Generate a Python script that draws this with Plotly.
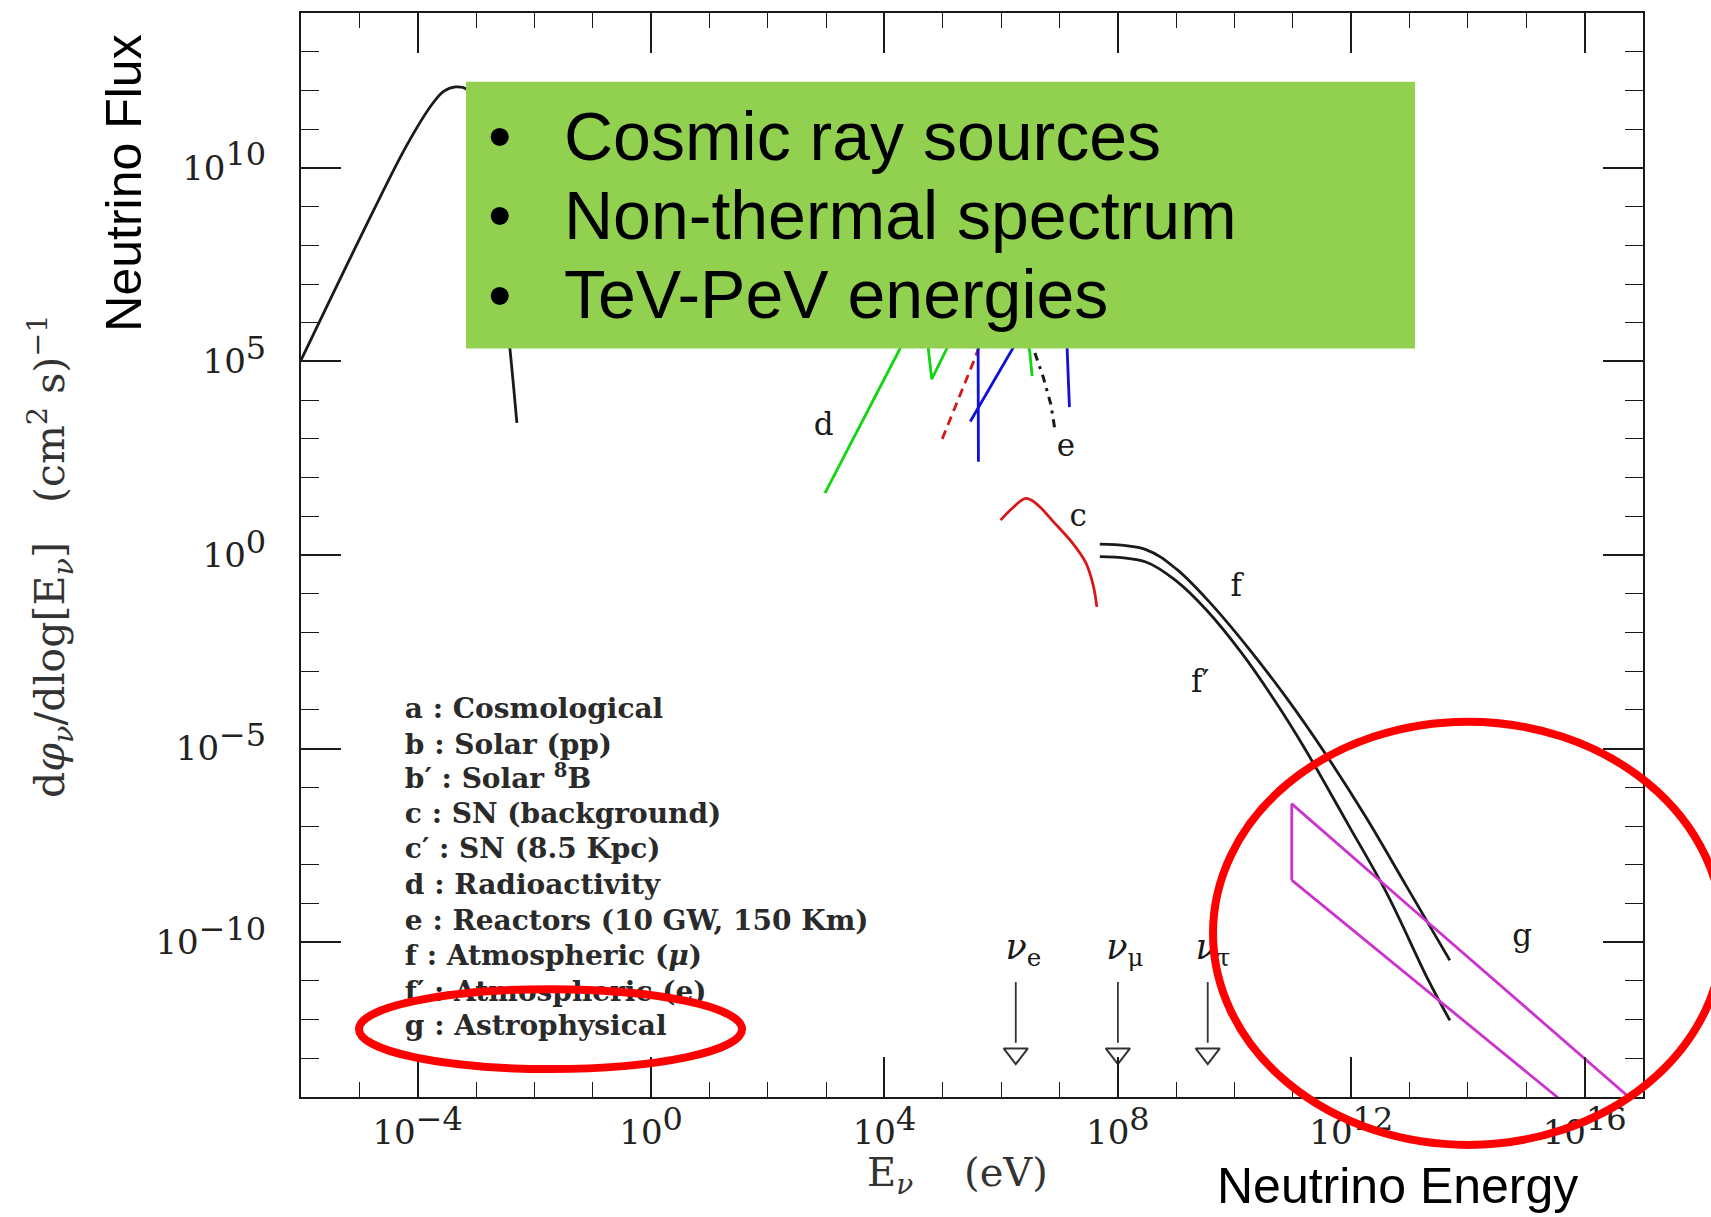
import numpy as np
import plotly.graph_objects as go

# All spectra are given as base-10 exponents:
# energy E_nu in eV, flux dphi/dlog[E] in (cm^2 s)^-1.

# a : cosmological
A_LOGE = [-6.0, -5.0, -4.2, -3.75, -3.55, -3.35, -3.15, -3.0, -2.8, -2.6, -2.42, -2.30]
A_LOGF = [5.03, 8.15, 10.55, 11.65, 11.98, 12.09, 12.02, 11.55, 10.0, 7.8, 5.34, 3.41]

# b : solar pp
B_LOGE = [4.3, 4.8, 5.3, 5.55, 5.60, 5.61]
B_LOGF = [5.6, 7.8, 9.6, 10.2, 8.0, 2.41]

# b' : solar 8B
BP_LOGE = [5.47, 6.20, 6.6, 6.9, 7.1, 7.13, 7.17]
BP_LOGF = [3.45, 5.34, 6.1, 6.3, 6.0, 5.34, 3.82]

# c : supernova background
C_LOGE = [5.99, 6.2, 6.42, 6.6, 6.9, 7.2, 7.45, 7.58, 7.64]
C_LOGF = [0.90, 1.22, 1.46, 1.33, 0.85, 0.35, -0.2, -0.8, -1.34]

# c' : supernova at 8.5 kpc
CP_LOGE = [4.99, 5.3, 5.55, 5.65, 5.8]
CP_LOGF = [3.0, 4.15, 5.08, 5.5, 6.0]

# d : radioactivity
D_LOGE = [2.98, 4.27, 4.5, 4.72, 4.75, 4.81, 5.07, 5.3, 6.3, 6.49, 6.53]
D_LOGF = [1.60, 5.34, 6.1, 6.0, 5.34, 4.54, 5.34, 6.0, 6.3, 5.26, 4.62]

# e : reactors
E_LOGE = [6.2, 6.4, 6.55, 6.72, 6.85, 6.92]
E_LOGF = [6.2, 6.0, 5.34, 4.6, 3.9, 3.25]

# f : atmospheric (mu)
F_LOGE = [7.69, 8.48, 9.00, 9.59, 10.25, 10.90, 11.56, 12.25, 12.94, 13.69]
F_LOGF = [0.28, 0.14, -0.36, -1.25, -2.43, -3.71, -5.14, -6.77, -8.54, -10.47]

# f' : atmospheric (e)
FP_LOGE = [7.69, 8.48, 9.00, 9.53, 10.12, 10.71, 11.20, 11.95, 12.61, 13.33, 13.69]
FP_LOGF = [-0.04, -0.18, -0.67, -1.44, -2.53, -3.81, -4.99, -6.97, -8.74, -11.01, -12.02]

# g : astrophysical band (closed outline, continues below the frame)
G_LOGE = [10.98, 10.98, 13.0, 15.0, 17.52, 16.34, 13.0, 10.98]
G_LOGF = [-8.40, -6.43, -9.08, -11.70, -15.0, -15.0, -10.89, -8.40]

# Flavour markers
NU_LABELS = ["<i>ν</i><sub>e</sub>", "<i>ν</i><sub>μ</sub>", "<i>ν</i><sub>τ</sub>"]
NU_LOGE = [6.25, 8.0, 9.54]
NU_LABEL_LOGE = [6.38, 8.12, 9.63]

# Curve captions
CAPTIONS = ["d", "e", "c", "f", "f′", "g"]
CAPTION_LOGE = [2.96, 7.11, 7.32, 10.03, 9.41, 14.93]
CAPTION_LOGF = [3.31, 2.75, 0.95, -0.85, -3.35, -9.90]

# Key
KEY_LINES = [
    "a : Cosmological",
    "b : Solar (pp)",
    "b′ : Solar <sup>8</sup>B",
    "c : SN (background)",
    "c′ : SN (8.5 Kpc)",
    "d : Radioactivity",
    "e : Reactors (10 GW, 150 Km)",
    "f : Atmospheric (<i>μ</i>)",
    "f′ : Atmospheric (e)",
    "g : Astrophysical",
]
KEY_LOGF = [-4.03, -4.95, -5.85, -6.75, -7.65, -8.57, -9.50, -10.40, -11.33, -12.23]

BULLETS = ["Cosmic ray sources", "Non-thermal spectrum", "TeV-PeV energies"]

X_TICK_EXP = [-4, 0, 4, 8, 12, 16]
Y_TICK_EXP = [-10, -5, 0, 5, 10]

# ---- geometry ----
W, H = 1711, 1217
L, R, T, B = 301, 68, 11, 120
PW, PH = W - L - R, H - T - B


def px(xpix):
    return (xpix - L) / PW


def py(ypix):
    return (H - B - ypix) / PH


def p10(v):
    return 10.0 ** np.asarray(v, dtype=float)


def pow_label(n, size):
    s = str(n).replace("-", "−")
    return f"10<sup><span style='font-size:{size}px'>{s}</span></sup>"


GREEN = "#12D612"
BLUE = "#1010D8"
RED = "#D81818"
MAGENTA = "#CC33CC"
INK = "#1a1a1a"

fig = go.Figure()


def curve(loge, logf, color, dash="solid", width=2.8, shape="linear"):
    fig.add_trace(go.Scatter(
        x=p10(loge), y=p10(logf), mode="lines",
        line=dict(color=color, width=width, dash=dash, shape=shape),
        hoverinfo="skip", showlegend=False,
    ))


curve(A_LOGE, A_LOGF, INK, shape="spline")
curve(D_LOGE, D_LOGF, GREEN)
curve(CP_LOGE, CP_LOGF, RED, dash="9px,6px")
curve(B_LOGE, B_LOGF, BLUE)
curve(BP_LOGE, BP_LOGF, BLUE)
curve(E_LOGE, E_LOGF, INK, dash="8px,6px,3px,6px", width=3)
curve(C_LOGE, C_LOGF, RED, shape="spline")
curve(F_LOGE, F_LOGF, INK, shape="spline")
curve(FP_LOGE, FP_LOGF, INK, shape="spline")
curve(G_LOGE, G_LOGF, MAGENTA)

# flavour arrows
for e in NU_LOGE:
    fig.add_trace(go.Scatter(
        x=p10([e, e]), y=p10([-11.03, -12.6]), mode="lines",
        line=dict(color="#333", width=1.8), hoverinfo="skip", showlegend=False,
    ))
fig.add_trace(go.Scatter(
    x=p10(NU_LOGE), y=p10([-12.88] * len(NU_LOGE)), mode="markers",
    marker=dict(symbol="triangle-down-open", size=21, color="#333", line=dict(width=2)),
    hoverinfo="skip", showlegend=False,
))
fig.add_trace(go.Scatter(
    x=p10(NU_LABEL_LOGE), y=p10([-10.2] * 3), mode="text", text=NU_LABELS,
    textposition="middle center",
    textfont=dict(family="DejaVu Serif", size=35, color=INK),
    hoverinfo="skip", showlegend=False,
))

# curve captions
fig.add_trace(go.Scatter(
    x=p10(CAPTION_LOGE), y=p10(CAPTION_LOGF), mode="text", text=CAPTIONS,
    textposition="middle center",
    textfont=dict(family="DejaVu Serif", size=31, color=INK),
    hoverinfo="skip", showlegend=False,
))

# key
fig.add_trace(go.Scatter(
    x=p10([-4.22] * len(KEY_LINES)), y=p10(KEY_LOGF), mode="text", text=KEY_LINES,
    textposition="middle right",
    textfont=dict(family="DejaVu Serif", size=28, color="#2a2a2a", weight="bold"),
    hoverinfo="skip", showlegend=False,
))

# green call-out box
fig.add_shape(type="rect", xref="paper", yref="paper",
              x0=px(466), x1=px(1415), y0=py(347), y1=py(80),
              fillcolor="#92D050", line=dict(width=0), layer="above")
for txt, yc in zip(BULLETS, [134, 213, 293]):
    fig.add_annotation(xref="paper", yref="paper", x=px(486), y=py(yc),
                       xanchor="left", yanchor="middle", showarrow=False,
                       text="•", font=dict(family="Liberation Sans", size=67, color="black"))
    fig.add_annotation(xref="paper", yref="paper", x=px(562), y=py(yc),
                       xanchor="left", yanchor="middle", showarrow=False,
                       text=txt, font=dict(family="Liberation Sans", size=68, color="black"))

# red highlight ellipses
fig.add_shape(type="circle", xref="paper", yref="paper",
              x0=px(359), x1=px(742), y0=py(1069), y1=py(989),
              line=dict(color="#FF0000", width=8), layer="above")
fig.add_shape(type="circle", xref="paper", yref="paper",
              x0=px(1213), x1=px(1723), y0=py(1145), y1=py(721),
              line=dict(color="#FF0000", width=8), layer="above")

# axis titles
fig.add_annotation(xref="paper", yref="paper", x=px(957), y=py(1175),
                   xanchor="center", yanchor="middle",
                   showarrow=False, text="E<sub><i>ν</i></sub>    (eV)",
                   font=dict(family="DejaVu Serif", size=40, color="#333"))
fig.add_annotation(xref="paper", yref="paper", x=px(50), y=py(556), textangle=-90,
                   xanchor="center", yanchor="middle",
                   showarrow=False,
                   text="d<i>φ</i><sub><i>ν</i></sub>/dlog[E<sub><i>ν</i></sub>]   (cm<sup>2</sup> s)<sup>−1</sup>",
                   font=dict(family="DejaVu Serif", size=41, color="#333"))
fig.add_annotation(xref="paper", yref="paper", x=px(124), y=py(182), textangle=-90,
                   xanchor="center", yanchor="middle",
                   showarrow=False, text="Neutrino Flux",
                   font=dict(family="Liberation Sans", size=50, color="black"))
fig.add_annotation(xref="paper", yref="paper", x=px(1397), y=py(1186),
                   xanchor="center", yanchor="middle",
                   showarrow=False, text="Neutrino Energy",
                   font=dict(family="Liberation Sans", size=50, color="black"))

axis_common = dict(
    type="log", showgrid=False, zeroline=False,
    showline=True, linewidth=2, linecolor=INK, mirror="ticks",
    ticks="inside", ticklen=40, tickwidth=1.6, tickcolor=INK,
    tickfont=dict(family="DejaVu Serif", size=34, color="#222"),
)

fig.update_xaxes(
    **axis_common, range=[-6, 17],
    tickmode="array", tickvals=p10(X_TICK_EXP).tolist(),
    ticktext=[pow_label(n, 32) for n in X_TICK_EXP],
    ticklabelstandoff=4,
    minor=dict(tickmode="array", tickvals=p10(range(-6, 18)).tolist(),
               ticks="inside", ticklen=15, tickwidth=1.4, tickcolor=INK),
)
fig.update_yaxes(
    **axis_common, range=[-14, 14],
    tickmode="array", tickvals=p10(Y_TICK_EXP).tolist(),
    ticktext=[pow_label(n, 32) for n in Y_TICK_EXP],
    ticklabelstandoff=26,
    minor=dict(tickmode="array", tickvals=p10(range(-14, 15)).tolist(),
               ticks="inside", ticklen=18, tickwidth=1.4, tickcolor=INK),
)

fig.update_layout(
    width=W, height=H, autosize=False,
    margin=dict(l=L, r=R, t=T, b=B, pad=0),
    paper_bgcolor="white", plot_bgcolor="white",
    showlegend=False,
)

fig.write_html("out.html")
